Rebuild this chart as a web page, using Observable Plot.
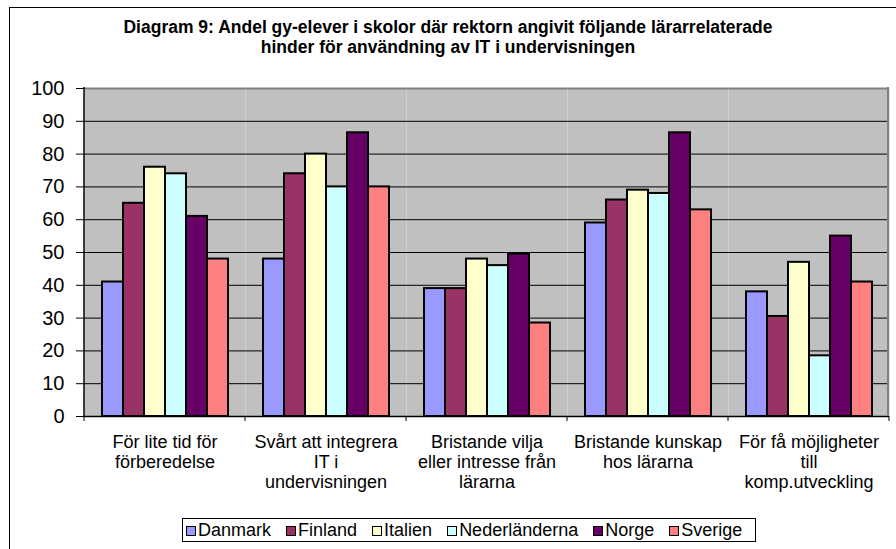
<!DOCTYPE html>
<html><head><meta charset="utf-8">
<script src="https://cdn.jsdelivr.net/npm/d3@7"></script>
<script src="https://cdn.jsdelivr.net/npm/@observablehq/plot@0.6"></script>
<style>
body{margin:0;background:#fff;font-family:"Liberation Sans",Arial,sans-serif;overflow:hidden;}
#frame{position:absolute;left:9px;top:7px;width:900px;height:560px;border-left:1px solid #000;border-top:1px solid #000;}
#title{position:absolute;left:0;top:17px;width:896px;text-align:center;font-weight:bold;font-size:17.5px;line-height:20px;color:#000;}
#chart{position:absolute;left:0;top:70px;}
#legend{position:absolute;left:182px;top:518px;width:569px;height:22px;border:1px solid #000;display:flex;align-items:center;padding-left:3px;gap:15px;font-size:18px;color:#000;background:#fff;}
#legend .it{display:flex;align-items:center;white-space:nowrap;}
#legend .sw{width:8px;height:8px;border:1px solid #000;margin-right:2px;margin-top:2px;}
</style></head>
<body>
<div id="frame"></div>
<div id="title">Diagram 9: Andel gy-elever i skolor där rektorn angivit följande lärarrelaterade<br>hinder för användning av IT i undervisningen</div>
<div id="chart"></div>
<div id="legend"></div>
<script>
const categories = ["För lite tid för förberedelse", "Svårt att integrera IT i undervisningen", "Bristande vilja eller intresse från lärarna", "Bristande kunskap hos lärarna", "För få möjligheter till komp.utveckling"];
const categoryLabels = ["För lite tid för\nförberedelse", "Svårt att integrera\nIT i\nundervisningen", "Bristande vilja\neller intresse från\nlärarna", "Bristande kunskap\nhos lärarna", "För få möjligheter\ntill\nkomp.utveckling"];
const countries = ["Danmark", "Finland", "Italien", "Nederländerna", "Norge", "Sverige"];
const colors = ["#9999FF", "#993366", "#FFFFCC", "#CCFFFF", "#660066", "#FF8080"];
const danmark = [41, 48, 39, 59, 38];
const finland = [65, 74, 39, 66, 30.5];
const italien = [76, 80, 48, 69, 47];
const nederlanderna = [74, 70, 46, 68, 18.5];
const norge = [61, 86.5, 49.5, 86.5, 55];
const sverige = [48, 70, 28.5, 63, 41];
const yTicks = [0, 10, 20, 30, 40, 50, 60, 70, 80, 90, 100];

const series = [danmark, finland, italien, nederlanderna, norge, sverige];
const data = [];
categories.forEach((c, i) => countries.forEach((k, j) => data.push({category: c, country: k, value: series[j][i]})));
const labelMap = new Map(categories.map((c, i) => [c, categoryLabels[i]]));

const chart = Plot.plot({
  width: 896, height: 450,
  marginTop: 18, marginBottom: 104, marginLeft: 84, marginRight: 7,
  style: {fontFamily: "'Liberation Sans', Arial, sans-serif", fontSize: "18px", color: "#000", background: "transparent", overflow: "visible"},
  fx: {domain: categories, padding: 0, label: null, axis: null},
  x: {domain: countries, paddingInner: 0, paddingOuter: 0.715, axis: null},
  y: {domain: [0, 100], axis: null},
  color: {domain: countries, range: colors},
  marks: [
    Plot.frame({fill: "#C0C0C0", stroke: null}),
    Plot.gridY(yTicks.filter(d => d > 0 && d < 100), {stroke: "#000", strokeOpacity: 1, strokeWidth: 1}),
    Plot.axisY(yTicks, {tickSize: 8, tickPadding: 12, fontSize: 20, stroke: "#000", label: null}),
    Plot.axisFx({anchor: "bottom", tickSize: 0, tickPadding: 17, fontSize: 18, lineHeight: 1.11, tickFormat: d => labelMap.get(d), label: null}),
    Plot.ruleY([100], {stroke: "#808080", strokeWidth: 2}),
    Plot.barY(data, {fx: "category", x: "country", y: "value", fill: "country", stroke: "#000", strokeWidth: 2}),
    Plot.ruleY([0], {stroke: "#000", strokeWidth: 1.5})
  ]
});
document.getElementById("chart").appendChild(chart);

// plot-area edges and category boundary ticks from the library's scales
const fx = chart.scale("fx"), y = chart.scale("y");
const svg = d3.select(chart);
const left = fx.apply(categories[0]);
const right = fx.apply(categories[categories.length - 1]) + fx.bandwidth;
const y0 = y.apply(0), y100 = y.apply(100);
const g = svg.append("g");
g.append("line").attr("x1", right - 1).attr("x2", right - 1).attr("y1", y100 - 1).attr("y2", y0).attr("stroke", "#808080").attr("stroke-width", 2);
g.append("line").attr("x1", left).attr("x2", left).attr("y1", y100 - 1).attr("y2", y0).attr("stroke", "#000").attr("stroke-width", 1.5);
const bounds = categories.map(c => fx.apply(c)).concat([right]);
bounds.forEach(b => g.append("line").attr("x1", b).attr("x2", b).attr("y1", y0).attr("y2", y0 + 5).attr("stroke", "#000").attr("stroke-width", 1));

const legend = document.getElementById("legend");
countries.forEach((k, i) => {
  const it = document.createElement("div"); it.className = "it";
  const sw = document.createElement("div"); sw.className = "sw"; sw.style.background = colors[i];
  const t = document.createElement("span"); t.textContent = k;
  it.appendChild(sw); it.appendChild(t); legend.appendChild(it);
});
</script>
</body></html>
